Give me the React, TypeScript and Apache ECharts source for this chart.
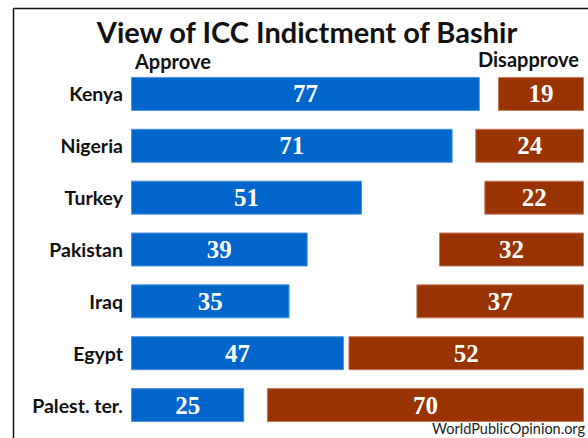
import React, { useEffect, useRef } from "react";
import * as echarts from "echarts";

const categories = ["Kenya", "Nigeria", "Turkey", "Pakistan", "Iraq", "Egypt", "Palest. ter."];
const approve = [77, 71, 51, 39, 35, 47, 25];
const disapprove = [19, 24, 22, 32, 37, 52, 70];
const titleText = "View of ICC Indictment of Bashir";
const sourceText = "WorldPublicOpinion.org";

export default function App() {
  const ref = useRef<HTMLDivElement>(null);
  useEffect(() => {
    if (!ref.current) return;
    const chart = echarts.init(ref.current, null, { renderer: "svg" });
    const sans = "Lato, 'Open Sans', sans-serif";
    const valueLabel = {
      show: true,
      position: "inside",
      color: "#ffffff",
      fontFamily: "'Liberation Serif', 'DejaVu Serif', serif",
      fontWeight: "bold",
      fontSize: 25,
    };
    chart.setOption({
      animation: false,
      backgroundColor: "#ffffff",
      title: {
        text: titleText,
        left: 302,
        top: 12,
        textAlign: "center",
        textStyle: { fontFamily: sans, fontWeight: "bold", fontSize: 29, color: "#111" },
      },
      grid: { left: 131, right: 4, top: 68, bottom: 7, containLabel: false },
      xAxis: [
        { type: "value", min: 0, max: 100, show: false },
        { type: "value", min: 0, max: 100, show: false, inverse: true },
      ],
      yAxis: {
        type: "category",
        data: categories,
        inverse: true,
        axisLine: { show: false },
        axisTick: { show: false },
        axisLabel: {
          margin: 8,
          fontFamily: sans,
          fontWeight: "bold",
          fontSize: 19.5,
          color: "#111",
        },
      },
      series: [
        {
          name: "Approve",
          type: "bar",
          xAxisIndex: 0,
          data: approve,
          barWidth: 34,
          barGap: "-100%",
          itemStyle: { color: "#0066cc", borderColor: "#4d94db", borderWidth: 1 },
          label: valueLabel,
        },
        {
          name: "Disapprove",
          type: "bar",
          xAxisIndex: 1,
          data: disapprove,
          barWidth: 34,
          barGap: "-100%",
          itemStyle: { color: "#993300", borderColor: "#c27a5a", borderWidth: 1 },
          label: valueLabel,
        },
      ],
      graphic: [
        { type: "line", shape: { x1: 13.5, y1: 8.5, x2: 588, y2: 8.5 }, style: { stroke: "#111", lineWidth: 1.5 } },
        { type: "line", shape: { x1: 13.5, y1: 8.5, x2: 13.5, y2: 438 }, style: { stroke: "#111", lineWidth: 1.5 } },
        {
          type: "text",
          left: 135,
          top: 51,
          style: { text: "Approve", fontFamily: sans, fontWeight: "bold", fontSize: 20, fill: "#111" },
        },
        {
          type: "text",
          left: 478,
          top: 49,
          style: { text: "Disapprove", fontFamily: sans, fontWeight: "bold", fontSize: 20, fill: "#111" },
        },
        {
          type: "text",
          right: 3,
          top: 421,
          style: { text: sourceText, fontFamily: sans, fontSize: 14.5, fill: "#222" },
        },
      ],
    });
    return () => chart.dispose();
  }, []);
  return <div ref={ref} style={{ position: "fixed", left: 0, top: 0, width: 588, height: 438 }} />;
}
